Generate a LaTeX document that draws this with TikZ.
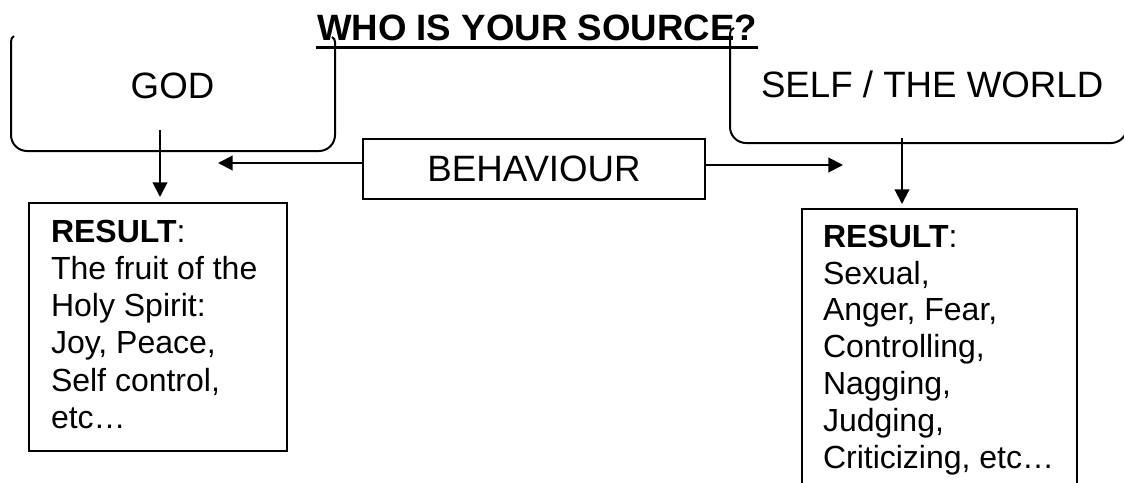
\documentclass[tikz,border=0pt]{standalone}
\usepackage{fontspec}
\setmainfont{Liberation Sans}
\usetikzlibrary{arrows.meta}
\begin{document}
\begin{tikzpicture}[x=0.75pt,y=-0.75pt, line width=1.5pt,
  big/.style={font=\fontsize{27.5pt}{33pt}\selectfont, inner sep=0pt},
  conn/.style={-{Triangle[length=11pt,width=11pt]}, line width=1.5pt},
  resbox/.style={draw, line width=1.5pt, inner sep=0pt},
  restext/.style={align=left, inner sep=0pt, anchor=north west}]
\useasboundingbox (0,0) rectangle (1124,482);
\clip (0,0) rectangle (1124,482);
% title
\node[anchor=base west, inner sep=0pt, font=\fontsize{27.5pt}{33pt}\selectfont\bfseries] (title) at (316,40) {WHO IS YOUR SOURCE?};
\draw[line width=2.5pt] ([yshift=-5.5pt]title.base west) -- ([yshift=-5.5pt]title.base east);
% GOD box
\node[big, anchor=base] (god) at (172.5,98) {GOD};
\draw[rounded corners=12pt] (11,42) -- (11,151) -- (335,151) -- (335,42);
\draw (11,42) .. controls (11,39) and (12,37) .. (14,36);
\draw (335,42) .. controls (335,40) and (334,38) .. (332,37);
% SELF box
\node[big, anchor=base west] (self) at (760,97) {SELF / THE WORLD};
\draw[rounded corners=12pt] (730,34) -- (730,143) -- (1127,143) -- (1127,100);
\draw (730,34) .. controls (730,31) and (731,29) .. (734,28);
% behaviour
\node[draw, big, minimum width=256.5pt, minimum height=45pt] (beh) at (534,169) {BEHAVIOUR};
\coordinate (lt) at (218,163);
\coordinate (rt) at (843,165);
\draw[conn] ([yshift=4.5pt]beh.west) -- (lt);
\draw[conn] ([yshift=3pt]beh.east) -- (rt);
% result boxes
\node[resbox, minimum width=193.5pt, minimum height=186pt] (resL) at (158,327) {};
\node[resbox, minimum width=206.25pt, minimum height=225.75pt] (resR) at (939.5,359.5) {};
\coordinate (godout) at (160,130);
\coordinate (selfout) at (902,138);
\draw[conn, shorten >=3.75pt] (godout) -- (godout |- resL.north);
\draw[conn, shorten >=3pt] (selfout) -- (selfout |- resR.north);
% texts
\node[restext, font=\fontsize{24pt}{27.9pt}\selectfont] (txtL) at (50,219) {\textbf{RESULT}:\\The fruit of the\\Holy Spirit:\\Joy, Peace,\\Self control,\\etc…};
\node[restext, font=\fontsize{24pt}{27.6pt}\selectfont] (txtR) at (822,224) {\textbf{RESULT}:\\Sexual,\\Anger, Fear,\\Controlling,\\Nagging,\\Judging,\\Criticizing, etc…};
\end{tikzpicture}
\end{document}
